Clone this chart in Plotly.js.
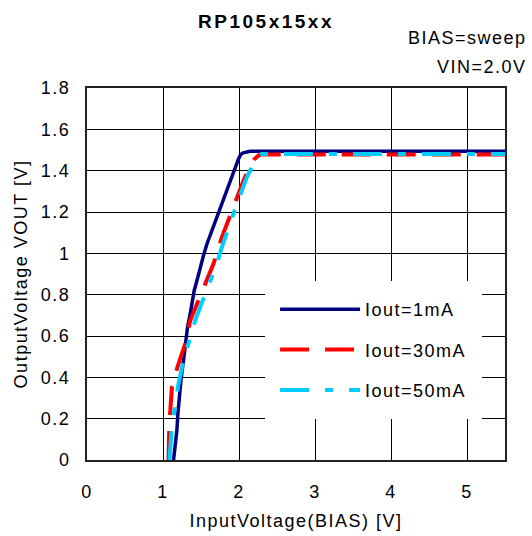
<!DOCTYPE html>
<html>
<head>
<meta charset="utf-8">
<script src="https://cdn.plot.ly/plotly-3.0.1.min.js"></script>
<style>
html,body{margin:0;padding:0;background:#fff;}
#chart{width:532px;height:536px;}
text{letter-spacing:1.5px;}
</style>
</head>
<body>
<div id="chart"></div>
<script>
// Iout = 1mA
const x1mA = [1.139,1.161,1.183,1.196,1.214,1.236,1.270,1.292,1.323,1.358,1.380,1.410,1.446,1.489,1.532,1.577,1.642,1.685,1.751,1.794,1.860,1.904,1.948,1.991,2.022,2.056,2.144,2.5,3,3.5,4,4.5,5,5.5];
const y1mA = [0,0.064,0.145,0.225,0.305,0.386,0.482,0.562,0.643,0.707,0.755,0.819,0.867,0.932,0.988,1.044,1.108,1.157,1.221,1.269,1.333,1.373,1.413,1.454,1.478,1.486,1.494,1.494,1.494,1.494,1.494,1.494,1.494,1.494];
// Iout = 30mA
const x30mA = [1.073,1.073,1.085,1.096,1.118,1.19,1.29,1.358,1.446,1.577,1.663,1.773,1.839,1.904,1.991,2.056,2.135,2.2,2.275,2.5,3,3.5,4,4.5,5,5.5];
const y30mA = [0,0.145,0.2,0.241,0.353,0.45,0.56,0.675,0.755,0.867,0.948,1.076,1.14,1.205,1.285,1.349,1.413,1.455,1.478,1.478,1.478,1.478,1.478,1.478,1.478,1.478];
// Iout = 50mA
const x50mA = [1.087,1.09,1.118,1.161,1.204,1.27,1.358,1.423,1.554,1.708,1.773,1.86,1.97,2.035,2.1,2.187,2.232,2.297,2.5,3,3.5,4,4.5,5,5.5];
const y50mA = [0,0.03,0.16,0.273,0.37,0.482,0.594,0.675,0.803,0.948,1.028,1.124,1.237,1.301,1.365,1.43,1.462,1.481,1.481,1.481,1.481,1.481,1.481,1.481,1.481];

const seriesNames = ['Iout=1mA','Iout=30mA','Iout=50mA'];
const xTicks = [0,1,2,3,4,5];
const yTicks = [0,0.2,0.4,0.6,0.8,1,1.2,1.4,1.6,1.8];

const FONT = 'Liberation Sans, Arial, sans-serif';

const traces = [
  {x:x1mA, y:y1mA, name:seriesNames[0], legendgroup:'a', mode:'lines',
   line:{color:'#000080', width:3.5}},
  {x:x30mA, y:y30mA, name:seriesNames[1], legendgroup:'b', mode:'lines',
   line:{color:'#ff0000', width:4, dash:'29px,16px'}},
  {x:x50mA, y:y50mA, name:seriesNames[2], legendgroup:'c', mode:'lines',
   line:{color:'#00ccff', width:4, dash:'29px,16px,8px,16px'}}
];

const layout = {
  width:532, height:536,
  margin:{l:87, r:27, t:88, b:76},
  paper_bgcolor:'#fff', plot_bgcolor:'#fff',
  font:{family:FONT, size:18, color:'#000'},
  showlegend:true,
  title:{text:'RP105x15xx', x:0.5, xref:'container', xanchor:'center',
         y:1-21/536, yref:'container', yanchor:'middle',
         font:{family:FONT, size:19, weight:'bold', color:'#000'}},
  xaxis:{range:[0,5.5], tickvals:xTicks, ticks:'', showgrid:true, gridcolor:'#000', gridwidth:1,
         zeroline:false, showline:true, linecolor:'#222', linewidth:2, mirror:true,
         ticklabelstandoff:14, tickfont:{size:18},
         title:{text:'InputVoltage(BIAS) [V]', standoff:14, font:{size:18}}},
  yaxis:{range:[0,1.8], tickvals:yTicks, ticks:'', showgrid:true, gridcolor:'#000', gridwidth:1,
         zeroline:false, showline:true, linecolor:'#222', linewidth:2, mirror:true,
         ticklabelstandoff:11, tickfont:{size:18},
         title:{text:'OutputVoltage VOUT [V]', standoff:9, font:{size:18}}},
  legend:{x:0.426, y:(460-281)/372, xanchor:'left', yanchor:'top', bgcolor:'#fff',
          borderwidth:10, bordercolor:'#fff', itemwidth:80, tracegroupgap:14, font:{size:18},
          traceorder:'grouped'},
  annotations:[
    {text:'BIAS=sweep', xref:'paper', yref:'paper', x:(529-87)/418, y:(460-38)/372,
     xanchor:'right', yanchor:'middle', showarrow:false, font:{size:18}},
    {text:'VIN=2.0V', xref:'paper', yref:'paper', x:(529-87)/418, y:(460-67)/372,
     xanchor:'right', yanchor:'middle', showarrow:false, font:{size:18}}
  ]
};

Plotly.newPlot('chart', traces, layout, {staticPlot:true, displayModeBar:false}).then(function(){
  const t = document.querySelector('.gtitle');
  if (t) t.style.letterSpacing = '2.5px';
});
</script>
</body>
</html>
